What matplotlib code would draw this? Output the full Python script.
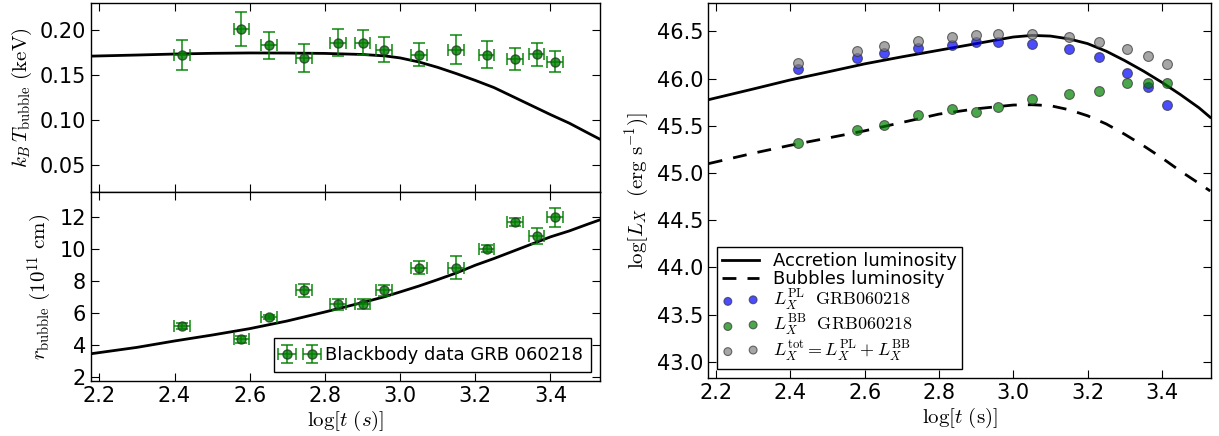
import numpy as np
import matplotlib
matplotlib.use('Agg')
import matplotlib.pyplot as plt

# --------------------------
# style
# --------------------------
plt.rcParams['mathtext.fontset'] = 'cm'
plt.rcParams['font.family'] = ['DejaVu Sans']
plt.rcParams['font.size'] = 15
plt.rcParams['xtick.direction'] = 'in'
plt.rcParams['ytick.direction'] = 'in'
plt.rcParams['xtick.top'] = True
plt.rcParams['ytick.right'] = True
plt.rcParams['xtick.major.size'] = 6
plt.rcParams['ytick.major.size'] = 6
plt.rcParams['axes.linewidth'] = 1.0

# --------------------------
# data: blackbody fits of GRB 060218
# --------------------------
logt = [2.42, 2.578, 2.652, 2.744, 2.834, 2.900, 2.958, 3.050, 3.149, 3.230, 3.305, 3.363, 3.413]
logt_err = 0.021

kT = [0.172, 0.201, 0.183, 0.169, 0.186, 0.186, 0.178, 0.1726, 0.178, 0.1726, 0.168, 0.173, 0.165]
kT_err = [0.0164, 0.019, 0.015, 0.016, 0.015, 0.014, 0.014, 0.013, 0.016, 0.015, 0.012, 0.013, 0.012]

r_bb = [5.2, 4.35, 5.75, 7.42, 6.54, 6.54, 7.42, 8.83, 8.83, 10.02, 11.67, 10.81, 11.96]
r_bb_err = [0.2, 0.2, 0.15, 0.4, 0.35, 0.3, 0.35, 0.42, 0.7, 0.2, 0.25, 0.52, 0.57]

# model curves
t_mod = [2.18, 2.3, 2.4, 2.5, 2.6, 2.7, 2.8, 2.9, 2.96, 3.0, 3.05, 3.1, 3.15, 3.2, 3.25,
         3.3, 3.35, 3.4, 3.45, 3.5, 3.53]
kT_mod = [0.1710, 0.1722, 0.1733, 0.1741, 0.1745, 0.1744, 0.1740, 0.1728, 0.1712, 0.1690,
          0.1645, 0.1585, 0.1515, 0.1440, 0.1360, 0.1260, 0.1160, 0.1060, 0.0965, 0.0855, 0.0790]
r_mod = [3.46, 3.85, 4.25, 4.62, 5.02, 5.50, 6.06, 6.65, 7.02, 7.31, 7.68, 8.08, 8.50,
         8.98, 9.40, 9.85, 10.30, 10.75, 11.12, 11.55, 11.80]

# luminosities
L_pl = [46.10, 46.22, 46.27, 46.32, 46.355, 46.383, 46.387, 46.37, 46.31, 46.227, 46.064, 45.915, 45.72]
L_bb = [45.316, 45.457, 45.51, 45.617, 45.677, 45.649, 45.702, 45.784, 45.837, 45.865, 45.95, 45.95, 45.95]
L_tot = [46.167, 46.294, 46.347, 46.397, 46.44, 46.457, 46.468, 46.468, 46.44, 46.387, 46.31, 46.24, 46.15]

t_lum = [2.18, 2.3, 2.4, 2.5, 2.6, 2.7, 2.8, 2.9, 3.0, 3.05, 3.1, 3.15, 3.2, 3.25, 3.3, 3.35,
         3.4, 3.45, 3.5, 3.53]
L_acc = [45.777, 45.89, 45.986, 46.07, 46.156, 46.23, 46.30, 46.37, 46.44, 46.457, 46.45,
         46.42, 46.37, 46.29, 46.19, 46.08, 45.96, 45.83, 45.69, 45.59]
L_bub = [45.10, 45.21, 45.294, 45.37, 45.447, 45.535, 45.624, 45.68, 45.72, 45.723, 45.713,
         45.67, 45.606, 45.52, 45.41, 45.29, 45.16, 45.02, 44.89, 44.81]

XLIM = (2.178, 3.532)
XTICKS = [2.2, 2.4, 2.6, 2.8, 3.0, 3.2, 3.4]

fig = plt.figure(figsize=(12.19, 4.36), dpi=100)
ax_T = fig.add_axes([0.0747, 0.5596, 0.4176, 0.4335])
ax_r = fig.add_axes([0.0747, 0.1261, 0.4176, 0.4335], sharex=ax_T)
ax_L = fig.add_axes([0.5808, 0.1330, 0.4126, 0.8601])

eb_kw = dict(fmt='o', color='green', ecolor='green', mfc='green', mec='#204020',
             ms=6.5, elinewidth=1.3, capsize=4, capthick=1.3, alpha=0.8)

# temperature
ax_T.plot(t_mod, kT_mod, color='black', lw=2)
ax_T.errorbar(logt, kT, xerr=logt_err, yerr=kT_err, **eb_kw)
ax_T.set_ylim(0.02, 0.23)
ax_T.set_yticks([0.05, 0.10, 0.15, 0.20])
ax_T.set_ylabel(r'$k_B\,T_{\rm bubble}\ (\rm keV)$', fontsize=15)
plt.setp(ax_T.get_xticklabels(), visible=False)

# radius
ax_r.plot(t_mod, r_mod, color='black', lw=2)
ax_r.errorbar(logt, r_bb, xerr=logt_err, yerr=r_bb_err, label='Blackbody data GRB 060218', **eb_kw)
ax_r.set_ylim(1.75, 13.55)
ax_r.set_yticks([2, 4, 6, 8, 10, 12])
ax_r.set_xlim(*XLIM)
ax_r.set_xticks(XTICKS)
ax_r.set_ylabel(r'$r_{\rm bubble}\ (10^{11}\ \rm cm)$', fontsize=15)
ax_r.set_xlabel(r'$\log[t\ (s)]$', fontsize=15, labelpad=2)
leg = ax_r.legend(loc='lower right', numpoints=2, fontsize=13, fancybox=False,
                  framealpha=1, edgecolor='black', handletextpad=0.4, borderpad=0.45)
leg.get_frame().set_linewidth(1.0)

# luminosity
ax_L.plot(t_lum, L_acc, color='black', lw=2, label='Accretion luminosity')
ax_L.plot(t_lum, L_bub, color='black', lw=2, ls='--', dashes=(5, 4), label='Bubbles luminosity')
sc_kw = dict(s=50, alpha=0.7, edgecolors='#333333', linewidths=0.8, zorder=3)
ax_L.scatter(logt, L_pl, color='blue', label=r'$L_X^{\rm PL}\ \ \rm GRB060218$', **sc_kw)
ax_L.scatter(logt, L_bb, color='green', label=r'$L_X^{\rm BB}\ \ \rm GRB060218$', **sc_kw)
ax_L.scatter(logt, L_tot, color='gray', label=r'$L_X^{\rm tot} = L_X^{\rm PL} + L_X^{\rm BB}$', **sc_kw)
ax_L.set_xlim(*XLIM)
ax_L.set_xticks(XTICKS)
ax_L.set_ylim(42.83, 46.8)
ax_L.set_yticks([43.0, 43.5, 44.0, 44.5, 45.0, 45.5, 46.0, 46.5])
ax_L.set_xlabel(r'$\log[t\ (\rm s)]$', fontsize=15, labelpad=2)
ax_L.set_ylabel(r'$\log[L_X\ \ (\rm erg\ s^{-1})]$', fontsize=15)
leg2 = ax_L.legend(loc='lower left', scatterpoints=2, fontsize=13, fancybox=False,
                   framealpha=1, edgecolor='black', labelspacing=0.0, handlelength=2.0,
                   handletextpad=0.8, borderpad=0.3, markerscale=0.8)
leg2.get_frame().set_linewidth(1.0)

plt.savefig('out.png', dpi=100)
